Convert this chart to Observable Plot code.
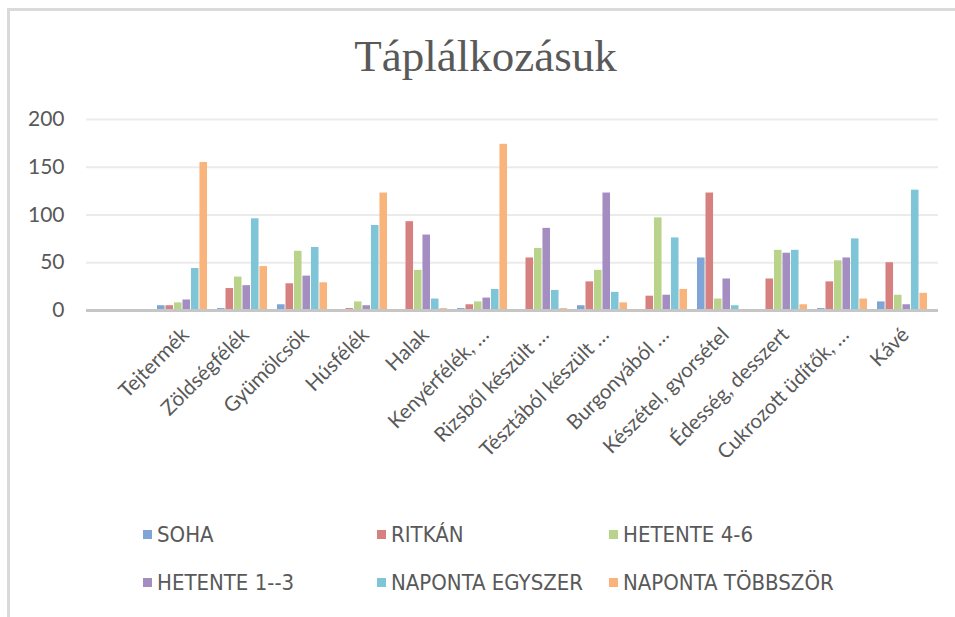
<!DOCTYPE html>
<html>
<head>
<meta charset="utf-8">
<script src="https://cdn.jsdelivr.net/npm/d3@7"></script>
<script src="https://cdn.jsdelivr.net/npm/@observablehq/plot@0.6"></script>
<style>
  html, body { margin: 0; padding: 0; background: #fff; }
  #wrap { position: relative; width: 955px; height: 617px; overflow: hidden; background: #fff; }
  #frame { position: absolute; left: 7px; top: 8px; right: -10px; bottom: -10px; border-top: 3px solid #dadada; border-left: 3px solid #dadada; }
  #title { position: absolute; left: 0; width: 971px; top: 30px; text-align: center; font-family: "Liberation Serif", "DejaVu Serif", serif; font-size: 45px; color: #595959; }
  #chart { position: absolute; left: 0; top: 0; }
  .leg { position: absolute; font-family: "Liberation Sans Narrow", "DejaVu Sans Condensed", sans-serif; font-size: 22px; color: #595959; white-space: nowrap; line-height: 22px; }
  .leg span.sw { display: inline-block; width: 9px; height: 9px; margin-right: 5px; vertical-align: 3px; }
</style>
</head>
<body>
<div id="wrap">
  <div id="frame"></div>
  <div id="chart"></div>
  <div id="title">Táplálkozásuk</div>
  <div id="legend"></div>
</div>
<script>
const categories = ["Tejtermék", "Zöldségfélék", "Gyümölcsök", "Húsfélék", "Halak", "Kenyérfélék, …", "Rizsből készült …", "Tésztából készült …", "Burgonyából …", "Készétel, gyorsétel", "Édesség, desszert", "Cukrozott üdítők, …", "Kávé"];
const seriesNames = ["SOHA", "RITKÁN", "HETENTE 4-6", "HETENTE 1--3", "NAPONTA EGYSZER", "NAPONTA TÖBBSZÖR"];
const seriesColors = ["#7ea5d6", "#d6807f", "#bad38b", "#a38dc1", "#7dc5d7", "#f9b47c"];
const soha      = [5, 2, 6, 0, 0, 2, 0, 5, 0, 55, 0, 2, 9];
const ritkan    = [5, 23, 28, 2, 93, 6, 55, 30, 15, 123, 33, 30, 50];
const hetente46 = [8, 35, 62, 9, 42, 9, 65, 42, 97, 12, 63, 52, 16];
const hetente13 = [11, 26, 36, 5, 79, 13, 86, 123, 16, 33, 60, 55, 6];
const egyszer   = [44, 96, 66, 89, 12, 22, 21, 19, 76, 5, 63, 75, 126];
const tobbszor  = [155, 46, 29, 123, 2, 174, 2, 8, 22, 0, 6, 12, 18];
const yTicks = [0, 50, 100, 150, 200];

const seriesValues = [soha, ritkan, hetente46, hetente13, egyszer, tobbszor];

const W = 955, H = 617;
const mL = 86, mR = 17, mT = 119, mB = 307;
const xRange = [146, 938];
const padIn = 0.164;
const step = (xRange[1] - xRange[0]) / categories.length;
const bw = step * (1 - padIn) / seriesNames.length;

const rows = [];
seriesNames.forEach((s, i) => categories.forEach((c, j) => rows.push({cat: c, series: s, si: i, value: seriesValues[i][j]})));

const barMarks = seriesNames.map((s, i) =>
  Plot.barY(rows.filter(r => r.series === s), {
    x: "cat", y: "value", fill: "series",
    insetLeft: i * bw, insetRight: (seriesNames.length - 1 - i) * bw
  })
);

const chart = Plot.plot({
  width: W, height: H,
  marginLeft: mL, marginRight: mR, marginTop: mT, marginBottom: mB,
  style: {background: "transparent"},
  x: {domain: categories, range: xRange, paddingInner: padIn, paddingOuter: padIn / 2, axis: null},
  y: {domain: [0, 200], axis: null},
  color: {domain: seriesNames, range: seriesColors},
  marks: [
    Plot.ruleY(yTicks.filter(d => d > 0), {stroke: "#ebebeb", strokeWidth: 2}),
    ...barMarks,
    Plot.ruleY([0], {stroke: "#c6c6c6", strokeWidth: 3}),
    Plot.text(yTicks, {y: d => d, frameAnchor: "left", dx: -22, textAnchor: "end", text: d => String(d), fontSize: 21, fill: "#595959", fontFamily: "Lato, sans-serif"}),
    Plot.text(categories, {x: d => d, frameAnchor: "bottom", dy: 21, dx: 3, rotate: -45, textAnchor: "end", lineAnchor: "middle", text: d => d, fontSize: 20.5, fill: "#595959", fontFamily: "Lato, sans-serif"})
  ]
});
document.getElementById("chart").appendChild(chart);

const legend = document.getElementById("legend");
const legX = [143, 377, 609];
const legY = [524, 572];
seriesNames.forEach((s, i) => {
  const d = document.createElement("div");
  d.className = "leg";
  d.style.left = legX[i % 3] + "px";
  d.style.top = legY[Math.floor(i / 3)] + "px";
  const sw = document.createElement("span");
  sw.className = "sw";
  sw.style.background = seriesColors[i];
  d.appendChild(sw);
  d.appendChild(document.createTextNode(s));
  legend.appendChild(d);
});
</script>
</body>
</html>
